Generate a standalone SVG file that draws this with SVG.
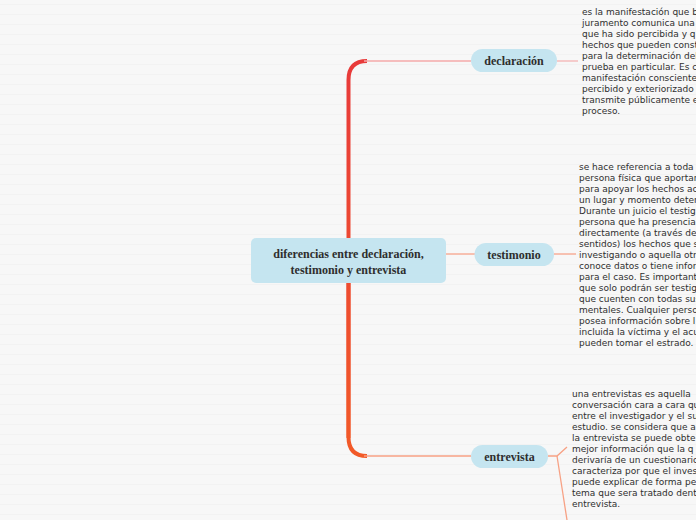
<svg xmlns="http://www.w3.org/2000/svg" width="696" height="520" viewBox="0 0 696 520">
<defs>
<pattern id="stripes" x="0" y="0" width="10" height="10" patternUnits="userSpaceOnUse">
<rect width="10" height="10" fill="#f7f7f7"/>
<rect y="4" width="10" height="1" fill="#f2f2f2"/>
</pattern>
<linearGradient id="trunk" gradientUnits="userSpaceOnUse" x1="0" y1="60" x2="0" y2="456">
<stop offset="0" stop-color="#e83a3a"/>
<stop offset="1" stop-color="#f25a28"/>
</linearGradient>
<style>
.node{fill:#c5e5f0}
.lbl{font-family:"Liberation Serif","Times New Roman",serif;font-weight:bold;font-size:12px;fill:#2e2e2e;text-anchor:middle}
.note{font-family:"DejaVu Sans",Verdana,sans-serif;font-size:9px;fill:#2f2f2f}
.thin{fill:none;stroke-width:1.3}
</style>
</defs>
<rect width="696" height="520" fill="url(#stripes)"/>
<g id="connectors">
<path d="M348.5 438 L348.5 80 Q348.5 61 367 61" fill="none" stroke="url(#trunk)" stroke-width="4"/>
<path d="M348.5 250 L348.5 437 Q348.5 456 367 456" fill="none" stroke="url(#trunk)" stroke-width="4"/>
<line class="thin" x1="364" y1="61" x2="471" y2="61" stroke="#f4aaaa"/>
<line class="thin" x1="364" y1="456" x2="471" y2="456" stroke="#f7a184"/>
<line class="thin" x1="446" y1="254" x2="475" y2="254" stroke="#f7a58c"/>
<line class="thin" x1="557" y1="61" x2="578" y2="61" stroke="#f5b4b4"/>
<line class="thin" x1="554" y1="254" x2="576" y2="254" stroke="#f7a58c"/>
<polyline class="thin" points="548,456 557,456 567,447" stroke="#f7a184"/>
<line class="thin" x1="557" y1="456" x2="567" y2="520" stroke="#f7a184"/>
</g>
<g id="central">
<rect class="node" x="251" y="238" width="195" height="45" rx="5"/>
<text class="lbl" x="348.5" y="257.5">diferencias entre declaración,</text>
<text class="lbl" x="348.5" y="273.5">testimonio y entrevista</text>
</g>
<g id="declaracion">
<rect class="node" x="471" y="49" width="86" height="23" rx="11.5"/>
<text class="lbl" x="514" y="65">declaración</text>
</g>
<g id="testimonio">
<rect class="node" x="474.5" y="243" width="79.5" height="23" rx="11.5"/>
<text class="lbl" x="514" y="258.5">testimonio</text>
</g>
<g id="entrevista">
<rect class="node" x="471" y="445" width="77" height="23" rx="11.5"/>
<text class="lbl" x="509.5" y="460.5">entrevista</text>
</g>
<g id="declaracion-note">
<text class="note" x="582" y="15">es la manifestación que b</text>
<text class="note" x="582" y="26">juramento comunica una</text>
<text class="note" x="582" y="37">que ha sido percibida y q</text>
<text class="note" x="582" y="48">hechos que pueden const</text>
<text class="note" x="582" y="59">para la determinación del</text>
<text class="note" x="582" y="70">prueba en particular. Es c</text>
<text class="note" x="582" y="81">manifestación consciente</text>
<text class="note" x="582" y="92">percibido y exteriorizado</text>
<text class="note" x="582" y="103">transmite públicamente e</text>
<text class="note" x="582" y="114">proceso.</text>
</g>
<g id="testimonio-note">
<text class="note" x="579" y="169.5">se hace referencia a toda</text>
<text class="note" x="579" y="180.5">persona física que aportan</text>
<text class="note" x="579" y="191.5">para apoyar los hechos ac</text>
<text class="note" x="579" y="202.5">un lugar y momento deter</text>
<text class="note" x="579" y="213.5">Durante un juicio el testig</text>
<text class="note" x="579" y="224.5">persona que ha presencia</text>
<text class="note" x="579" y="235.5">directamente (a través de</text>
<text class="note" x="579" y="246.5">sentidos) los hechos que s</text>
<text class="note" x="579" y="257.5">investigando o aquella otr</text>
<text class="note" x="579" y="268.5">conoce datos o tiene infor</text>
<text class="note" x="579" y="279.5">para el caso. Es important</text>
<text class="note" x="579" y="290.5">que solo podrán ser testig</text>
<text class="note" x="579" y="301.5">que cuenten con todas sus</text>
<text class="note" x="579" y="312.5">mentales. Cualquier perso</text>
<text class="note" x="579" y="323.5">posea información sobre l</text>
<text class="note" x="579" y="334.5">incluida la víctima y el acu</text>
<text class="note" x="579" y="345.5">pueden tomar el estrado.</text>
</g>
<g id="entrevista-note">
<text class="note" x="572" y="396.5">una entrevistas es aquella</text>
<text class="note" x="572" y="407.5">conversación cara a cara qu</text>
<text class="note" x="572" y="418.5">entre el investigador y el su</text>
<text class="note" x="572" y="429.5">estudio. se considera que a</text>
<text class="note" x="572" y="440.5">la entrevista se puede obte</text>
<text class="note" x="572" y="451.5">mejor información que la q</text>
<text class="note" x="572" y="462.5">derivaría de un cuestionario</text>
<text class="note" x="572" y="473.5">caracteriza por que el inves</text>
<text class="note" x="572" y="484.5">puede explicar de forma pe</text>
<text class="note" x="572" y="495.5">tema que sera tratado dent</text>
<text class="note" x="572" y="506.5">entrevista.</text>
</g>
</svg>
